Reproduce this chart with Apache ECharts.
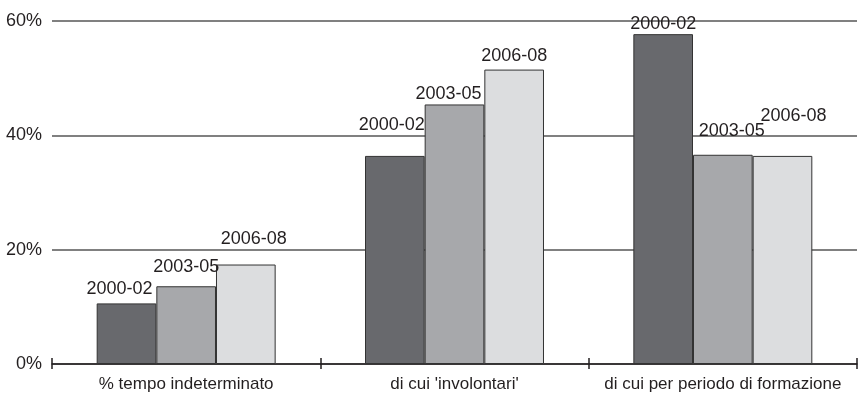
<!DOCTYPE html>
<html>
<head>
<meta charset="utf-8">
<script src="https://cdn.jsdelivr.net/npm/echarts@6/dist/echarts.min.js"></script>
<style>
  html, body { margin: 0; padding: 0; background: #fff; }
  #chart { width: 865px; height: 400px; }
</style>
</head>
<body>
<div id="chart"></div>
<script>
// categorie sull'asse x
const categories = ['% tempo indeterminato', "di cui 'involontari'", 'di cui per periodo di formazione'];
// periodi (serie)
const periods = ['2000-02', '2003-05', '2006-08'];
// valori in %
const values2000 = [10.6, 36.4, 57.7];
const values2003 = [13.6, 45.4, 36.6];
const values2006 = [17.4, 51.5, 36.4];
const yTicks = [0, 20, 40, 60];

// spostamento etichette [dx, dy] per ogni barra, come nel grafico originale
const labelShift = [
  [[-7, 0], [-3, -17], [0, 4]],
  [[0, -5], [-6, 4], [9, -10]],
  [[8, -11], [0, 0], [11, -26]]
];

const colors = ['#68696d', '#a7a8ab', '#dcdddf'];
const FONT = "'Liberation Sans', Arial, sans-serif";
const TEXT = '#231f20';

const chart = echarts.init(document.getElementById('chart'));

const allValues = [values2000, values2003, values2006];

const series = periods.map((p, i) => ({
  name: p,
  type: 'bar',
  barGap: '0%',
  barCategoryGap: '33.3%',
  itemStyle: { color: colors[i], borderColor: '#333', borderWidth: 1 },
  label: {
    show: true,
    position: 'top',
    distance: 5,
    formatter: '{a}',
    color: TEXT,
    fontFamily: FONT,
    fontSize: 18
  },
  data: allValues[i].map((v, j) => ({
    value: v,
    label: { offset: labelShift[i][j] }
  }))
}));

chart.setOption({
  backgroundColor: '#fff',
  animation: false,
  grid: { left: 52, right: 8, top: 21, bottom: 36 },
  xAxis: [
    {
      type: 'category',
      data: categories,
      axisLine: { lineStyle: { color: '#231f20', width: 1.5 } },
      axisTick: { show: true, length: 5, lineStyle: { color: '#231f20', width: 1.5 } },
      axisLabel: { interval: 0, color: TEXT, fontFamily: FONT, fontSize: 17, margin: 12 }
    },
    {
      type: 'category',
      position: 'bottom',
      data: categories,
      axisLine: { show: false },
      axisTick: { show: true, inside: true, length: 6, lineStyle: { color: '#231f20', width: 1.5 } },
      axisLabel: { show: false }
    }
  ],
  yAxis: {
    type: 'value',
    min: yTicks[0],
    max: yTicks[yTicks.length - 1],
    interval: 20,
    axisLine: { show: false },
    axisTick: { show: false },
    axisLabel: {
      formatter: '{value}%',
      color: TEXT,
      fontFamily: FONT,
      fontSize: 18,
      margin: 10
    },
    splitLine: {
      lineStyle: { color: '#808080', width: 2 }
    }
  },
  series: series
});
</script>
</body>
</html>
